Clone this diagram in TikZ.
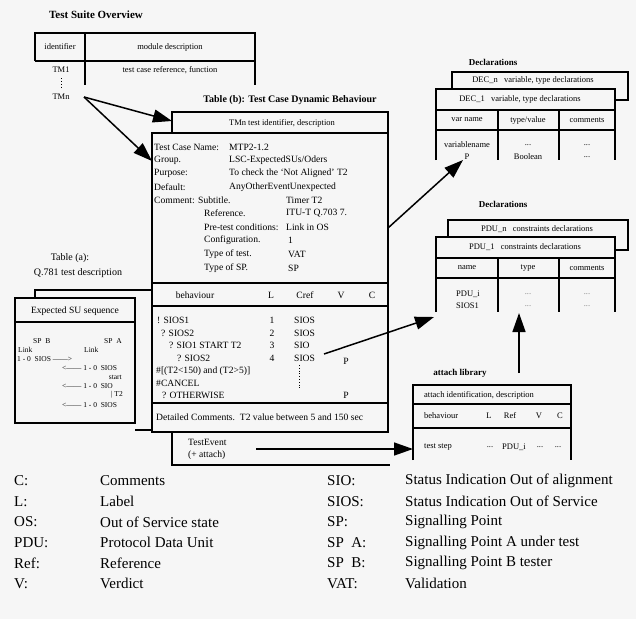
\documentclass[tikz,border=0pt]{standalone}
\usepackage{fontspec}
\setmainfont{Liberation Serif}
\usetikzlibrary{arrows.meta}
\definecolor{bg}{gray}{0.965}
\begin{document}
\begin{tikzpicture}[x=1pt,y=-1pt,
  tbl/.style={draw=black,line width=1.3pt},
  card/.style={draw=black,line width=1.3pt,fill=bg},
  t/.style={font=\fontsize{9.6}{10}\selectfont,inner sep=0pt,anchor=west},
  tc/.style={font=\fontsize{9.6}{10}\selectfont,inner sep=0pt},
  tt/.style={font=\fontsize{8.5}{9}\selectfont,inner sep=0pt},
  ts/.style={font=\fontsize{7.5}{8}\selectfont,inner sep=0pt,anchor=west},
  ttl/.style={font=\bfseries\fontsize{10}{11}\selectfont,inner sep=0pt},
  ttn/.style={font=\fontsize{10}{11}\selectfont,inner sep=0pt},
  leg/.style={font=\fontsize{15}{16}\selectfont,inner sep=0pt,anchor=west},
  arr/.style={line width=1.5pt,-{Triangle[length=19pt,width=13pt]}}]
\fill[bg] (0,0) rectangle (636,619);
\useasboundingbox (0,0) rectangle (636,619);

% ---------------- Test Suite Overview
\node[ttl,font=\bfseries\fontsize{11}{12}\selectfont] (tsTitle) at (96,15) {Test Suite Overview};
\draw[tbl] (35,61) -- (35,33) -- (255,33) -- (255,85);
\draw[tbl] (35,61) -- (255,61);
\draw[tbl] (85,33) -- (85,85);
\node[tt] (tsId) at (60,47) {identifier};
\node[tt] (tsMod) at (170,47) {module description};
\node[tt] (tmOne) at (61,70) {TM1};
\node[tt] (tsRef) at (170,70) {test case reference, function};
\draw[dotted,line width=0.9pt] (61,78) -- (61,88);
\node[tt] (tmn) at (61,97) {TMn};

% ---------------- Table (a) (behind)
\node[ttn] (taTitle) at (70,258) {Table (a):};
\node[ttn] (taSub) at (78,273) {Q.781 test description};
\fill[bg] (35,290) rectangle (152,430);
\draw[tbl] (35,298) -- (35,290) -- (152,290);
\draw[tbl] (135,430) -- (152,430);
\draw[card] (15,298) rectangle (135,423);
\draw[tbl] (15,322) -- (135,322);
\node[tc] (esu) at (75,311) {Expected SU sequence};
\node[ts] (spb) at (33,341) {SP\ \ B};
\node[ts] (spa) at (104,341) {SP\ \ A};
\node[ts] (lkb) at (18,350) {Link};
\node[ts] (lka) at (84,350) {Link};
\node[ts] (sq1) at (17,359) {1 - 0\ \ SIOS ------{>}};
\node[ts] (sq2) at (62,368) {{<}------ 1 - 0\ \ SIOS};
\node[ts,anchor=east] (sq3) at (122,377) {start};
\node[ts] (sq4) at (62,386) {{<}------ 1 - 0\ \ SIO};
\node[ts,anchor=east] (sq5) at (123,395) {| T2};
\node[ts] (sq6) at (62,405) {{<}------ 1 - 0\ \ SIOS};

% ---------------- Table (b)
\node[ttl] (tbTitle) at (290,100) {Table (b): Test Case Dynamic Behaviour};
\fill[bg] (172,112) rectangle (388,465);
\draw[tbl] (388,133) -- (388,112) -- (172,112) -- (172,465) -- (390,465);
\node[tt] (tbBack) at (282,123) {TMn test identifier, description};
\draw[card] (152,133) rectangle (388,432);
\draw[tbl] (152,283) -- (388,283);
\draw[tbl] (152,306) -- (388,306);
\draw[tbl] (152,403) -- (388,403);
% header info
\node[t] (tcn) at (154,147) {Test Case Name:};
\node[t] (tcnv) at (229,147) {MTP2-1.2};
\node[t] (grp) at (154,160) {Group.};
\node[t] (grpv) at (229,160) {LSC-ExpectedSUs/Oders};
\node[t] (pur) at (154,173) {Purpose:};
\node[t] (purv) at (229,173) {To check the `Not Aligned' T2};
\node[t] (dfl) at (154,187) {Default:};
\node[t] (dflv) at (229,187) {AnyOtherEventUnexpected};
\node[t] (cmt) at (154,200) {Comment:};
\node[t] (sub) at (198,200) {Subtitle.};
\node[t] (subv) at (286,200) {Timer T2};
\node[t] (ref) at (204,213) {Reference.};
\node[t] (refv) at (286,213) {ITU-T Q.703 7.};
\node[t] (pre) at (204,227) {Pre-test conditions:};
\node[t] (prev) at (286,227) {Link in OS};
\node[t] (cfg) at (204,240) {Configuration.};
\node[t] (cfgv) at (288,240) {1};
\node[t] (tot) at (204,254) {Type of test.};
\node[t] (totv) at (288,254) {VAT};
\node[t] (tsp) at (204,268) {Type of SP.};
\node[t] (tspv) at (288,268) {SP};
% behaviour header
\node[tc] (hb) at (195,295) {behaviour};
\node[tc] (hl) at (271,295) {L};
\node[tc] (hc) at (305,295) {Cref};
\node[tc] (hv) at (341,295) {V};
\node[tc] (hcc) at (372,295) {C};
% behaviour rows
\node[t] (b1) at (157,320) {! SIOS1};
\node[t] (b2) at (161,333) {? SIOS2};
\node[t] (b3) at (169,345) {? SIO1 START T2};
\node[t] (b4) at (177,358) {? SIOS2};
\node[t] (b5) at (156,371) {\#[(T2{<}150) and (T2{>}5)]};
\node[t] (b6) at (156,383) {\#CANCEL};
\node[t] (b7) at (162,395) {? OTHERWISE};
\node[tc] (l1) at (272,320) {1};
\node[tc] (l2) at (272,333) {2};
\node[tc] (l3) at (272,345) {3};
\node[tc] (l4) at (272,358) {4};
\node[t] (c1) at (294,320) {SIOS};
\node[t] (c2) at (294,333) {SIOS};
\node[t] (c3) at (294,345) {SIO};
\node[t] (c4) at (294,358) {SIOS};
\draw[dotted,line width=0.8pt] (299,365) -- (299,388);
\node[tc] (v4) at (346,361) {P};
\node[tc] (v7) at (346,395) {P};
\node[t] (dc) at (156,417) {Detailed Comments.\ \ T2 value between 5 and 150 sec};
\node[t] (te) at (188,442) {TestEvent};
\node[t] (tea) at (188,455) {(+ attach)};

% ---------------- Declarations (variables)
\node[ttl,font=\bfseries\fontsize{9}{10}\selectfont] (decTitle) at (493,62) {Declarations};
\draw[card] (452,72) rectangle (628,100);
\node[tt] (decn) at (533,80) {DEC\_n\ \ \ variable, type declarations};
\fill[bg] (436,89) rectangle (615,160);
\draw[tbl] (436,160) -- (436,89) -- (615,89) -- (615,160);
\draw[tbl] (436,110) -- (615,110);
\draw[tbl] (436,130) -- (615,130);
\draw[tbl] (498,110) -- (498,160);
\draw[tbl] (559,110) -- (559,160);
\node[tt] (dec1) at (520,99.5) {DEC\_1\ \ \ variable, type declarations};
\node[tt] (dvn) at (467,120) {var name};
\node[tt] (dtv) at (528,120) {type/value};
\node[tt] (dcm) at (587,120) {comments};
\node[tt] (dv1) at (467,145) {variablename};
\node[tt] (dvp) at (467,157) {P};
\node[tt] (dt1) at (528,145) {...};
\node[tt] (dtb) at (528,157) {Boolean};
\node[tt] (dc1) at (587,145) {...};
\node[tt] (dc2) at (587,157) {...};

% ---------------- Declarations (constraints)
\node[ttl,font=\bfseries\fontsize{9}{10}\selectfont] (pduTitle) at (503,204) {Declarations};
\draw[card] (448,220) rectangle (628,250);
\node[tt] (pdun) at (537,229) {PDU\_n\ \ \ constraints declarations};
\fill[bg] (436,237) rectangle (615,312);
\draw[tbl] (436,312) -- (436,237) -- (615,237) -- (615,312);
\draw[tbl] (436,258) -- (615,258);
\draw[tbl] (436,278) -- (615,278);
\draw[tbl] (498,258) -- (498,312);
\draw[tbl] (559,258) -- (559,312);
\node[tt] (pdu1) at (525,247.5) {PDU\_1\ \ \ constraints declarations};
\node[tt] (pnm) at (467,268) {name};
\node[tt] (pty) at (528,268) {type};
\node[tt] (pcm) at (587,268) {comments};
\node[tt,anchor=west] (pdi) at (456,294) {PDU\_i};
\node[tt,anchor=west] (psi) at (456,306) {SIOS1};
\node[tt,gray] (pd1) at (528,294) {...};
\node[tt,gray] (pd2) at (528,306) {...};
\node[tt,gray] (pd3) at (587,294) {...};
\node[tt,gray] (pd4) at (587,306) {...};

% ---------------- attach library
\node[ttl,font=\bfseries\fontsize{9}{10}\selectfont] (atTitle) at (460,373) {attach library};
\fill[bg] (413,385) rectangle (571,460);
\draw[tbl] (413,460) -- (413,385) -- (571,385) -- (571,460);
\draw[tbl] (413,404) -- (571,404);
\draw[tbl] (413,428) -- (571,428);
\node[tt,anchor=west] (atid) at (424,395) {attach identification, description};
\node[tt,anchor=west] (atb) at (424,416) {behaviour};
\node[tt] (atl) at (489,416) {L};
\node[tt] (atr) at (510,416) {Ref};
\node[tt] (atv) at (539,416) {V};
\node[tt] (atc) at (560,416) {C};
\node[tt,anchor=west] (ats) at (424,447) {test step};
\node[tt] (at1) at (490,447) {...};
\node[tt,anchor=west] (atp) at (502,447) {PDU\_i};
\node[tt] (at2) at (540,447) {...};
\node[tt] (at3) at (558,447) {...};

% ---------------- connectors
\coordinate (tmnR) at (84,97);
\coordinate (backL) at (172,121);
\coordinate (frontL) at (152,161);
\coordinate (frontR) at (388,228);
\coordinate (decP) at (463,160);
\coordinate (crefR) at (324,354);
\coordinate (pduL) at (434,317);
\coordinate (teS) at (256,449);
\coordinate (atL) at (413,449);
\coordinate (atTop) at (519,373);
\coordinate (pduB) at (519,313);
\draw[arr] (tmnR) -- (backL);
\draw[arr] (tmnR) -- (frontL);
\draw[arr] (frontR) -- (decP);
\draw[arr] (crefR) -- (pduL);
\draw[arr] (teS) -- (atL);
\draw[arr] (atTop) -- (pduB);

% ---------------- legend
\foreach \k/\a/\b/\c [count=\i from 0] in {
  C:/Comments/SIO:/Status Indication Out of alignment,
  L:/Label/SIOS:/Status Indication Out of Service,
  OS:/Out of Service state/SP:/Signalling Point,
  PDU:/Protocol Data Unit/SP\ \ A:/Signalling Point A under test,
  Ref:/Reference/SP\ \ B:/Signalling Point B tester,
  V:/Verdict/VAT:/Validation}{
  \node[leg] (lga\i) at (14,481+20.5*\i) {\k};
  \node[leg] (lgb\i) at (100,481+20.5*\i) {\a};
  \node[leg] (lgc\i) at (327,481+20.5*\i) {\b};
  \node[leg] (lgd\i) at (405,481+20.5*\i) {\c};
}
\end{tikzpicture}
\end{document}
